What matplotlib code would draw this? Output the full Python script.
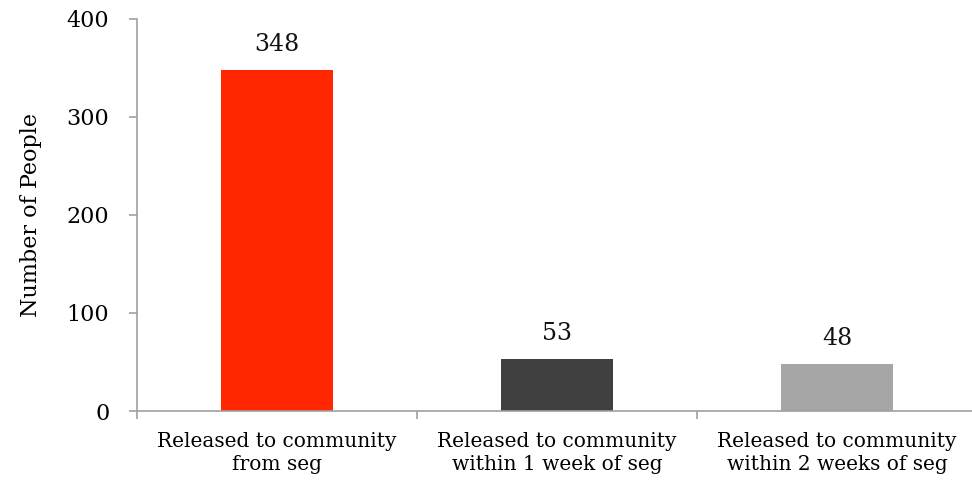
import matplotlib
matplotlib.use("Agg")
import matplotlib.pyplot as plt
import numpy as np

categories = ["Released to community\nfrom seg",
              "Released to community\nwithin 1 week of seg",
              "Released to community\nwithin 2 weeks of seg"]
counts = [348, 53, 48]
colors = ["#ff2600", "#404040", "#a6a6a6"]
y_ticks = [0, 100, 200, 300, 400]

plt.rcParams["font.family"] = ["DejaVu Serif"]

fig = plt.figure(figsize=(9.72, 4.82), dpi=100)
ax = fig.add_axes([0.141, 0.1473, 0.864, 0.8133])

x = np.arange(len(categories))
bars = ax.bar(x, counts, width=0.4, color=colors, zorder=2)
for b, v in zip(bars, counts):
    ax.text(b.get_x() + b.get_width() / 2, v + 14, str(v),
            ha="center", va="bottom", fontsize=17, color="#111111")

ax.set_xlim(-0.5, 2.5)
ax.set_ylim(0, 400)
ax.set_yticks(y_ticks)
ax.set_yticklabels([str(t) for t in y_ticks], fontsize=16)

# category labels centred, ticks at the boundaries
ax.set_xticks(x)
ax.set_xticklabels(categories, fontsize=14.5, linespacing=1.3)
ax.tick_params(axis="x", length=0, pad=15)
ax.set_xticks([-0.5, 0.5, 1.5, 2.5], minor=True)
ax.tick_params(axis="x", which="minor", length=6, color="#a0a0a0", width=1.2)
ax.tick_params(axis="y", length=6, color="#a0a0a0", width=1.2, pad=14)

for side in ["top", "right"]:
    ax.spines[side].set_visible(False)
for side in ["left", "bottom"]:
    ax.spines[side].set_color("#a0a0a0")
    ax.spines[side].set_linewidth(1.2)

ax.set_ylabel("Number of People", fontsize=16, labelpad=18)

fig.savefig("out.png", dpi=100)
